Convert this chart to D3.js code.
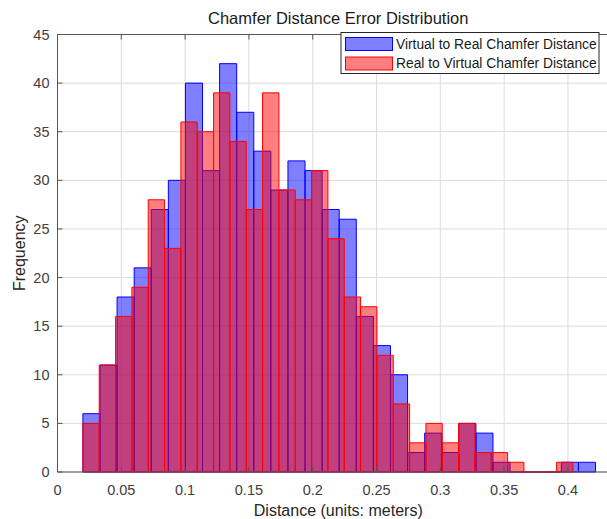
<!DOCTYPE html>
<html>
<head>
<meta charset="utf-8">
<script src="https://cdn.jsdelivr.net/npm/d3@7"></script>
<style>
  body { margin: 0; background: #fff; }
  text { font-family: "Liberation Sans", Arial, sans-serif; }
</style>
</head>
<body>
<div id="chart-container"></div>
<script>
// histogram counts, 30 bins each
const blueCounts = [6, 11, 18, 21, 27, 30, 40, 31, 42, 37, 33, 29, 32, 31, 27, 26, 16, 13, 10, 2, 4, 2, 5, 4, 1, 0, 0, 0, 1, 1];
const redCounts = [5, 11, 16, 19, 28, 23, 36, 35, 39, 34, 27, 39, 29, 28, 31, 24, 18, 17, 12, 7, 3, 5, 3, 5, 2, 2, 1, 0, 0, 1];
const binStart = 0.0199;
const blueBinWidth = 0.01339;
const redBinWidth = 0.0128;
const xTicks = [0, 0.05, 0.1, 0.15, 0.2, 0.25, 0.3, 0.35, 0.4];
const yTicks = [0, 5, 10, 15, 20, 25, 30, 35, 40, 45];
const seriesNames = ["Virtual to Real Chamfer Distance", "Real to Virtual Chamfer Distance"];

const width = 607, height = 519;
const plotLeft = 57.5, plotRight = 619, plotTop = 34.5, plotBottom = 472;

const x = d3.scaleLinear().domain([0, 0.44]).range([plotLeft, plotRight]);
const y = d3.scaleLinear().domain([0, 45]).range([plotBottom, plotTop]);

const svg = d3.select("#chart-container")
  .append("svg")
  .attr("width", width)
  .attr("height", height);

// grid
svg.append("g")
  .selectAll("line")
  .data(xTicks)
  .enter()
  .append("line")
  .attr("x1", d => x(d)).attr("x2", d => x(d))
  .attr("y1", plotTop).attr("y2", plotBottom)
  .style("stroke", "#dcdcdc").style("stroke-width", 1);
svg.append("g")
  .selectAll("line")
  .data(yTicks)
  .enter()
  .append("line")
  .attr("x1", plotLeft).attr("x2", plotRight)
  .attr("y1", d => y(d)).attr("y2", d => y(d))
  .style("stroke", "#dcdcdc").style("stroke-width", 1);

function drawHist(counts, binWidth, color) {
  const bins = counts.map((c, i) => ({ x0: binStart + i * binWidth, x1: binStart + (i + 1) * binWidth, count: c }));
  svg.append("g")
    .selectAll("path")
    .data(bins)
    .enter()
    .append("path")
    .attr("d", d => `M${x(d.x0)},${y(0)}V${y(d.count)}H${x(d.x1)}V${y(0)}Z`)
    .style("fill", color)
    .style("fill-opacity", 0.5)
    .style("stroke", color)
    .style("stroke-width", 1);
}

drawHist(blueCounts, blueBinWidth, "#0000ff");
drawHist(redCounts, redBinWidth, "#ff0000");

// axes box
const axisColor = "#555";
svg.append("path")
  .attr("d", `M${plotLeft},${plotBottom}H${plotRight}M${plotLeft},${plotTop}V${plotBottom}M${plotLeft},${plotTop}H${plotRight}`)
  .style("fill", "none")
  .style("stroke", axisColor)
  .style("stroke-width", 1);

// ticks (inside)
const tickLen = 5;
xTicks.forEach(t => {
  svg.append("line").attr("x1", x(t)).attr("x2", x(t)).attr("y1", plotBottom).attr("y2", plotBottom - tickLen)
    .style("stroke", axisColor);
  svg.append("line").attr("x1", x(t)).attr("x2", x(t)).attr("y1", plotTop).attr("y2", plotTop + tickLen)
    .style("stroke", axisColor);
});
yTicks.forEach(t => {
  svg.append("line").attr("x1", plotLeft).attr("x2", plotLeft + tickLen).attr("y1", y(t)).attr("y2", y(t))
    .style("stroke", axisColor);
});

// tick labels
svg.append("g")
  .selectAll("text")
  .data(xTicks)
  .enter()
  .append("text")
  .attr("x", d => x(d))
  .attr("y", plotBottom + 23)
  .attr("text-anchor", "middle")
  .style("font-size", "14.5px")
  .style("fill", "#404040")
  .text(d => d);
svg.append("g")
  .selectAll("text")
  .data(yTicks)
  .enter()
  .append("text")
  .attr("x", plotLeft - 8)
  .attr("y", d => y(d) + 5)
  .attr("text-anchor", "end")
  .style("font-size", "14.5px")
  .style("fill", "#404040")
  .text(d => d);

// labels
svg.append("text")
  .attr("x", (plotLeft + plotRight) / 2)
  .attr("y", 24)
  .attr("text-anchor", "middle")
  .style("font-size", "16.5px")
  .style("fill", "#1a1a1a")
  .text("Chamfer Distance Error Distribution");
svg.append("text")
  .attr("x", (plotLeft + plotRight) / 2)
  .attr("y", 516)
  .attr("text-anchor", "middle")
  .style("font-size", "16px")
  .style("fill", "#262626")
  .text("Distance (units: meters)");
svg.append("text")
  .attr("transform", `translate(25,${(plotTop + plotBottom) / 2}) rotate(-90)`)
  .attr("text-anchor", "middle")
  .style("font-size", "16px")
  .style("fill", "#262626")
  .text("Frequency");

// legend
const legend = svg.append("g");
legend.append("rect")
  .attr("x", 341).attr("y", 32.5).attr("width", 258).attr("height", 41)
  .style("fill", "#fff").style("stroke", "#262626").style("stroke-width", 1);
const legendColors = ["#0000ff", "#ff0000"];
seriesNames.forEach((name, i) => {
  legend.append("rect")
    .attr("x", 345.5).attr("y", 37.5 + i * 19.5).attr("width", 47).attr("height", 13)
    .style("fill", legendColors[i]).style("fill-opacity", 0.5)
    .style("stroke", legendColors[i]).style("stroke-width", 1);
  legend.append("text")
    .attr("x", 396).attr("y", 49 + i * 19)
    .style("font-size", "13.8px")
    .style("fill", "#1a1a1a")
    .text(name);
});
</script>
</body>
</html>
